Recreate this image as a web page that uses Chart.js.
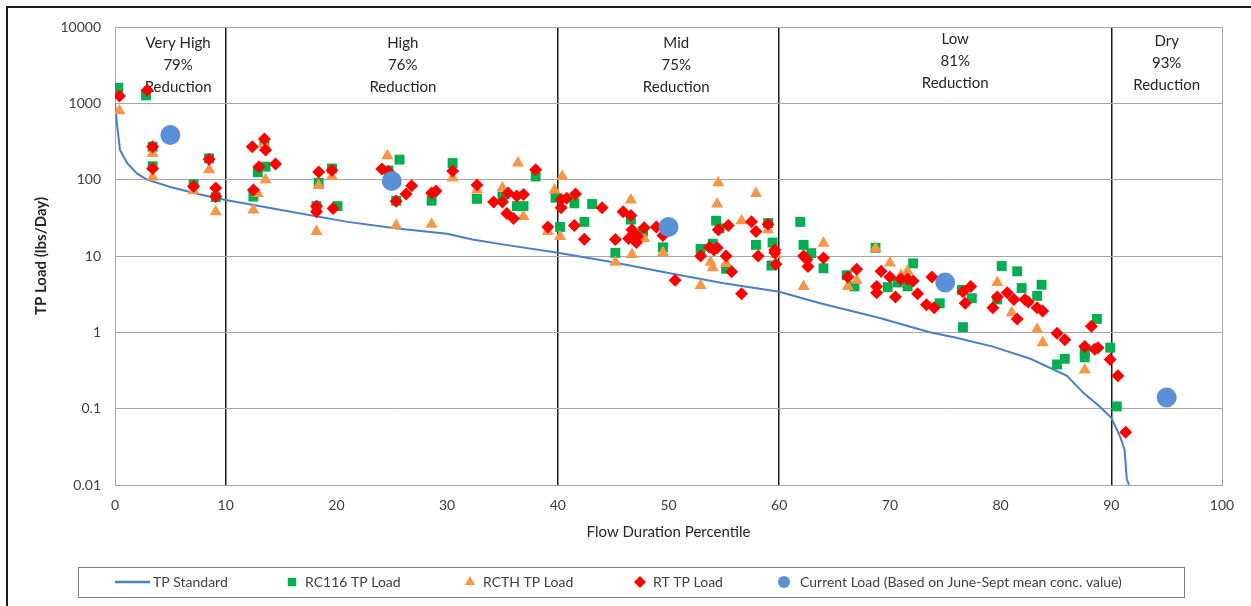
<!DOCTYPE html>
<html>
<head>
<meta charset="utf-8">
<script src="https://cdn.jsdelivr.net/npm/chart.js@4.4.1/dist/chart.umd.min.js"></script>
<style>
  html, body { margin: 0; padding: 0; background: #fff; }
  #wrap { width: 1251px; height: 606px; }
</style>
</head>
<body>
<div id="wrap"><canvas id="loadChart" width="1251" height="606"></canvas></div>
<script>
/* data */

const tpStandard = [
  [0, 1000], [0.2, 500], [0.45, 245], [1.1, 165], [2, 120], [2.9, 100], [5, 80], [7.5, 65],
  [10, 54], [15, 40], [21, 28], [25.5, 23], [30, 19.5], [32.3, 16.5], [35, 14.2], [40, 11],
  [45, 8.3], [50, 6], [55, 4.4], [60, 3.4], [63.7, 2.4], [69, 1.55], [73.6, 1.0], [76, 0.85],
  [79.3, 0.65], [82.7, 0.45], [86, 0.27], [87.5, 0.16], [89, 0.105], [90, 0.076],
  [90.8, 0.043], [91.2, 0.029], [91.4, 0.012], [91.6, 0.01]
];

const rc116Load = [
  [0.3, 1600], [2.8, 1270], [3.4, 270], [3.4, 150], [7.1, 87], [8.5, 190], [9.1, 59],
  [12.5, 60], [12.9, 125], [13.5, 300], [13.6, 148], [18.4, 91], [18.2, 45], [19.6, 140],
  [20.1, 45], [24.7, 132], [25.7, 183], [25.4, 53], [28.6, 53], [30.5, 165], [32.7, 56],
  [35, 60], [36.3, 45], [36.9, 45], [38, 110], [39.8, 58], [40.2, 24], [41.5, 49], [42.4, 28],
  [43.1, 48], [45.2, 11], [46.6, 30], [47.7, 21], [49.5, 13], [52.9, 12.4], [54, 14.5],
  [54.3, 29], [54.6, 23], [55.2, 6.8], [57.9, 14], [59, 27], [59.4, 15], [59.3, 7.5],
  [61.9, 28], [62.2, 14], [62.9, 10.9], [64, 6.9], [66.1, 5.6], [66.8, 4.0], [68.7, 12.8],
  [69.8, 3.9], [70.7, 4.5], [71.6, 4.0], [72.1, 8], [74.5, 2.4], [76.5, 3.6], [76.6, 1.17],
  [77.4, 2.8], [79.7, 2.7], [80.1, 7.4], [81.5, 6.3], [81.9, 3.8], [83.3, 3.0], [83.7, 4.2],
  [85.1, 0.38], [85.8, 0.45], [87.6, 0.47], [87.6, 0.55], [88.7, 1.5], [89.9, 0.63], [90.5, 0.107]
];

const rcthLoad = [
  [0.4, 800], [3.4, 220], [3.4, 108], [7.1, 72], [8.5, 135], [9.1, 38], [12.5, 40], [12.9, 66],
  [13.5, 290], [13.6, 100], [18.2, 21], [18.4, 84], [19.6, 110], [24.6, 205], [25.4, 25],
  [28.6, 26], [30.5, 105], [32.7, 73], [35, 78], [36.4, 165], [36.9, 33], [39.1, 21],
  [39.7, 73], [40.2, 18], [40.4, 110], [45.2, 8.3], [46.6, 54], [46.7, 10.5], [47.8, 17],
  [49.5, 11], [52.9, 4.1], [53.8, 8.3], [54, 7], [54.5, 91], [54.4, 48], [55.2, 8], [56.6, 29],
  [57.9, 66], [59, 22], [59.7, 10.5], [62.2, 4], [64, 14.7], [66.2, 4.0], [67, 4.8],
  [68.7, 12.5], [70, 8.1], [71, 5.6], [71.6, 6.3], [79.7, 4.5], [81, 1.8], [83.3, 1.1],
  [83.8, 0.73], [87.6, 0.32]
];

const rtLoad = [
  [0.4, 1250], [2.9, 1480], [3.4, 270], [3.4, 140], [7.1, 82], [8.5, 185], [9.1, 78], [9.1, 60],
  [12.4, 270], [13.5, 340], [13.6, 245], [13.0, 148], [14.5, 160], [12.5, 73], [18.4, 126],
  [19.6, 133], [18.2, 45], [18.2, 38], [19.7, 42], [24.1, 138], [24.7, 128], [26.8, 83],
  [26.3, 65], [25.4, 52], [29, 71], [28.6, 67], [30.5, 130], [32.7, 85], [35.5, 67], [34.2, 51],
  [35, 51], [36.3, 61], [36.9, 64], [35.4, 36], [36, 31], [38, 135], [39.1, 24], [40.3, 55],
  [40.8, 57], [41.6, 65], [40.3, 43], [41.5, 25], [44, 43], [42.4, 16.6], [45.9, 38],
  [46.6, 34], [46.7, 22], [46.4, 17], [45.2, 16.5], [47.2, 18.2], [47.1, 15], [47.8, 23.5],
  [48.9, 24], [49.5, 18.5], [50.6, 4.8], [52.9, 10], [53.7, 13], [54.4, 12.8], [54.1, 12],
  [54.5, 22], [55.4, 25], [55.2, 10], [55.7, 6.2], [56.6, 3.2], [57.5, 28], [57.9, 21],
  [58.1, 10], [59, 26], [59.6, 12], [59.6, 11], [59.7, 7.8], [62.2, 10], [62.5, 9], [62.6, 7.3],
  [64, 9.4], [67, 6.7], [66.2, 5.3], [69.2, 6.3], [70, 5.3], [68.8, 4], [68.8, 3.3], [70.5, 2.9],
  [71, 5.0], [71.6, 5], [72.1, 4.7], [72.5, 3.2], [73.3, 2.3], [74, 2.1], [73.8, 5.3],
  [76.6, 3.4], [76.8, 2.4], [77.3, 4], [79.7, 2.9], [79.3, 2.1], [80.6, 3.3], [81.2, 2.7],
  [81.5, 1.5], [82.2, 2.7], [82.5, 2.5], [83.3, 2.1], [83.8, 1.9], [85.1, 0.97], [85.8, 0.8],
  [87.6, 0.65], [88.2, 1.2], [88.5, 0.6], [88.8, 0.63], [89.9, 0.44], [90.6, 0.27], [91.3, 0.049]
];

const currentLoad = [[5, 385], [25, 96], [50, 24], [75, 4.5], [95, 0.14]];

const yTickValues = [0.01, 0.1, 1, 10, 100, 1000, 10000];
const yTickLabels = ['0.01', '0.1', '1', '10', '100', '1000', '10000'];

const zoneBounds = [10, 40, 60, 90];
const zoneNames = ['Very High', 'High', 'Mid', 'Low', 'Dry'];
const zoneReductions = ['79%', '76%', '75%', '81%', '93%'];
const zoneLabelX = [5.7, 26, 50.7, 75.9, 95];

const FONT = 'Lato, "Liberation Sans", sans-serif';
const toXY = arr => arr.map(([x, y]) => ({ x, y }));

/* zone labels inside the plot */
const zoneLabels = {
  id: 'zoneLabels',
  beforeDatasetsDraw(chart) {
    const { ctx, chartArea, scales } = chart;
    const topOffsets = [16, 16, 16, 12, 14];
    ctx.save();
    ctx.font = '15px ' + FONT;
    ctx.fillStyle = '#262626';
    ctx.textAlign = 'center';
    ctx.textBaseline = 'middle';
    zoneNames.forEach((name, i) => {
      const x = scales.x.getPixelForValue(zoneLabelX[i]);
      const y = chartArea.top + topOffsets[i];
      ctx.fillText(name, x, y);
      ctx.fillText(zoneReductions[i], x, y + 22);
      ctx.fillText('Reduction', x, y + 44);
    });
    ctx.restore();
  }
};

/* plot frame + outer frame + boxed legend */
const frames = {
  id: 'frames',
  beforeDatasetsDraw(chart) {
    const { ctx, chartArea: a } = chart;
    ctx.save();
    ctx.strokeStyle = '#a6a6a6';
    ctx.lineWidth = 1;
    ctx.strokeRect(a.left + 0.5, a.top + 0.5, a.right - a.left, a.bottom - a.top);
    ctx.restore();
  },
  afterDraw(chart) {
    const { ctx } = chart;
    ctx.save();
    // outer chart frame (only top and left are inside the picture)
    ctx.strokeStyle = '#1a1a1a';
    ctx.lineWidth = 2;
    ctx.beginPath();
    ctx.moveTo(7, 606);
    ctx.lineTo(7, 7);
    ctx.lineTo(1251, 7);
    ctx.stroke();

    // legend box
    ctx.strokeStyle = '#7f7f7f';
    ctx.lineWidth = 1;
    ctx.strokeRect(78.5, 567.5, 1106, 30);

    const ly = 582;
    const itemX = [115, 292, 470, 640, 784];
    ctx.font = '14px ' + FONT;
    ctx.textBaseline = 'middle';
    chart.data.datasets.forEach((ds, i) => {
      const x = itemX[i];
      if (i === 0) {
        ctx.strokeStyle = ds.borderColor;
        ctx.lineWidth = 2.5;
        ctx.beginPath();
        ctx.moveTo(x, ly);
        ctx.lineTo(x + 35, ly);
        ctx.stroke();
        ctx.fillStyle = '#404040';
        ctx.fillText(ds.label, x + 38, ly);
      } else {
        ctx.fillStyle = ds.backgroundColor;
        Chart.helpers.drawPoint(ctx, {
          pointStyle: ds.pointStyle,
          radius: 6,
          borderWidth: 0
        }, x, ly);
        ctx.fillStyle = '#404040';
        ctx.fillText(ds.label, x + (i === 4 ? 16 : 13), ly);
      }
    });
    ctx.restore();
  }
};

const canvas = document.getElementById('loadChart');

const loadChart = new Chart(canvas, {
  type: 'scatter',
  data: {
    datasets: [
      {
        label: 'TP Standard',
        type: 'line',
        data: toXY(tpStandard),
        borderColor: '#4a7ec6',
        borderWidth: 2,
        pointRadius: 0,
        tension: 0,
        fill: false,
        order: 5
      },
      {
        label: 'RC116 TP Load',
        data: toXY(rc116Load),
        pointStyle: 'rect',
        pointRadius: 7,
        backgroundColor: '#00b050',
        borderColor: '#00b050',
        borderWidth: 0,
        order: 4
      },
      {
        label: 'RCTH TP Load',
        data: toXY(rcthLoad),
        pointStyle: 'triangle',
        pointRadius: 7,
        backgroundColor: '#f79646',
        borderColor: '#f79646',
        borderWidth: 0,
        order: 3
      },
      {
        label: 'RT TP Load',
        data: toXY(rtLoad),
        pointStyle: 'rectRot',
        pointRadius: 6.5,
        backgroundColor: '#ff0000',
        borderColor: '#ff0000',
        borderWidth: 0,
        order: 2
      },
      {
        label: 'Current Load (Based on June-Sept mean conc. value)',
        data: toXY(currentLoad),
        pointStyle: 'circle',
        pointRadius: 10,
        backgroundColor: '#5b8fd6',
        borderColor: '#5b8fd6',
        borderWidth: 0,
        order: 1
      }
    ]
  },
  options: {
    responsive: false,
    animation: false,
    layout: { padding: { left: 28, top: 27, right: 29, bottom: 61 } },
    plugins: {
      legend: { display: false },
      tooltip: { enabled: false }
    },
    scales: {
      x: {
        type: 'linear',
        min: 0,
        max: 100,
        afterFit: s => { s.height = 60; },
        ticks: {
          stepSize: 10,
          padding: 12,
          color: '#404040',
          font: { family: FONT, size: 14 }
        },
        grid: {
          drawTicks: false,
          color: ctx => zoneBounds.includes(ctx.tick.value) ? '#1a1a1a' : 'rgba(0,0,0,0)',
          lineWidth: 1.5
        },
        border: { color: '#a6a6a6' },
        title: {
          display: true,
          text: 'Flow Duration Percentile',
          color: '#262626',
          font: { family: FONT, size: 15 },
          padding: { top: 4, bottom: 4 }
        }
      },
      y: {
        type: 'logarithmic',
        min: 0.01,
        max: 10000,
        afterFit: s => { s.width = 87; },
        afterBuildTicks: s => { s.ticks = yTickValues.map(v => ({ value: v })); },
        ticks: {
          padding: 14,
          color: '#404040',
          font: { family: FONT, size: 14 },
          callback: (val, i) => yTickLabels[i]
        },
        grid: {
          drawTicks: false,
          color: '#a6a6a6',
          lineWidth: 1
        },
        border: { color: '#a6a6a6' },
        title: {
          display: true,
          text: 'TP Load (lbs/Day)',
          color: '#262626',
          font: { family: FONT, size: 15, weight: 'bold' },
          padding: { top: 4, bottom: 4 }
        }
      }
    }
  },
  plugins: [zoneLabels, frames]
});
</script>
</body>
</html>
